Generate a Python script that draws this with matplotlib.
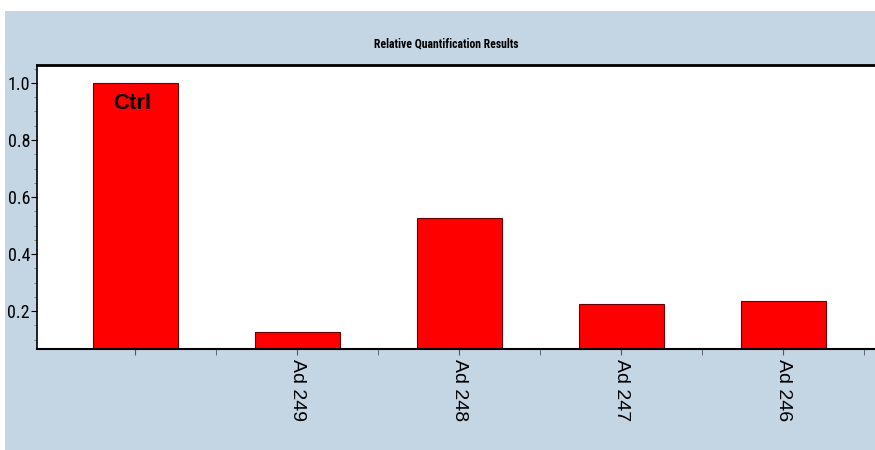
import numpy as np
import matplotlib
matplotlib.use("Agg")
import matplotlib.pyplot as plt
from matplotlib.patches import Rectangle
from matplotlib.ticker import MultipleLocator

samples = ["Ctrl", "Ad 249", "Ad 248", "Ad 247", "Ad 246"]
rq = [1.0, 0.126, 0.526, 0.225, 0.235]
tick_labels = ["", "Ad 249", "Ad 248", "Ad 247", "Ad 246"]

BG = "#c4d5e4"
NARROW = ["Liberation Sans Narrow", "DejaVu Sans Condensed", "Roboto Condensed", "DejaVu Sans"]
ARIAL = ["Liberation Sans", "DejaVu Sans"]

fig = plt.figure(figsize=(8.75, 4.5), dpi=100)
fig.patch.set_facecolor("white")
# blue panel behind the chart, leaving a thin white margin top/left
fig.patches.append(Rectangle((5/875, 0), 1, 1 - 11/450, transform=fig.transFigure,
                             facecolor=BG, edgecolor="none", zorder=-5))

ax = fig.add_axes([37/875, 1 - 349/450, 845/875, (349 - 65)/450])
ax.set_zorder(1)
ax.set_facecolor("white")
x = np.arange(len(samples))
ax.bar(x, rq, width=0.525, color="#ff0000", edgecolor="#6a0000", linewidth=0.8,
       bottom=0, zorder=2)

ax.set_xlim(-0.608, 4.61)
ax.set_ylim(0.067, 1.063)

ax.set_xticks(x)
ax.set_xticklabels(tick_labels, rotation=270, fontsize=14, family=ARIAL)
ax.set_xticks(x + 0.5, minor=True)
ax.tick_params(axis="x", which="both", direction="out", length=4, color="#555555", pad=3)

ax.set_yticks([0.2, 0.4, 0.6, 0.8, 1.0])
ax.set_yticklabels(["0.2", "0.4", "0.6", "0.8", "1.0"], family=NARROW, fontsize=13)
ax.yaxis.set_minor_locator(MultipleLocator(0.05))
ax.tick_params(axis="y", which="major", direction="out", length=4, pad=1)
ax.tick_params(axis="y", which="minor", direction="out", length=2, color="#777777")

ax.spines["right"].set_visible(False)
ax.spines["top"].set_linewidth(2)
ax.spines["left"].set_linewidth(1.2)
ax.spines["bottom"].set_linewidth(1.5)

ax.text(-0.02, 0.965, "Ctrl", fontsize=16, fontweight="bold",
        ha="center", va="top", family=ARIAL, zorder=3)

fig.text(446/875, 1 - 44/450, "Relative Quantification Results", ha="center", va="center",
         fontsize=8.5, fontweight="bold", family=NARROW)

fig.savefig("out.png", dpi=100, facecolor=fig.get_facecolor())
